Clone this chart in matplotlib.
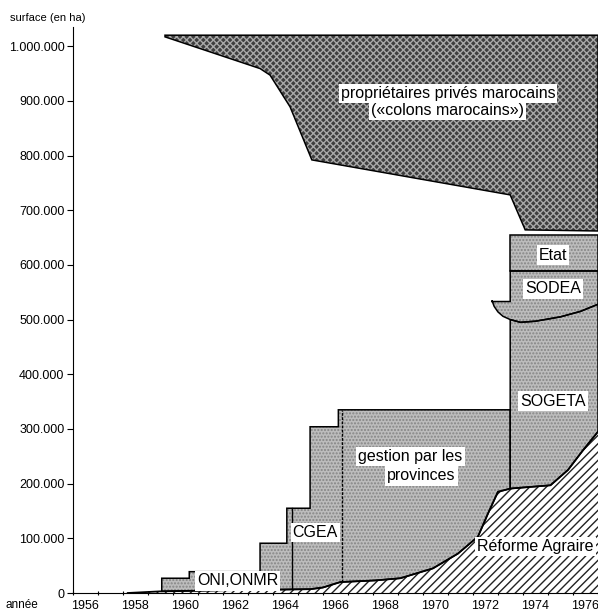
import matplotlib.pyplot as plt
import numpy as np

plt.rcParams['font.family'] = ['Liberation Sans', 'DejaVu Sans']
plt.rcParams['hatch.linewidth'] = 1.0

# Réforme Agraire (upper edge of the hatched area), in ha
reforme_years = [1958.2, 1959.5, 1962.0, 1965.5, 1966.0, 1966.7, 1968.1, 1969.1,
                 1970.4, 1971.4, 1972.2, 1972.6, 1973.0, 1973.5, 1975.1, 1975.8,
                 1976.4, 1977.0]
reforme_ha = [0, 3000, 5000, 7000, 10000, 20000, 23000, 27000,
              45000, 72000, 103000, 145000, 185000, 191000, 197000, 225000,
              261000, 295000]

# ONI/ONMR, CGEA, gestion par les provinces: stepped total
step_edges = [1959.56, 1960.66, 1963.49, 1964.56, 1965.49, 1966.62, 1973.49]
step_ha = [27000, 39000, 91000, 155000, 304000, 335000]
cgea_start = 1964.76
provinces_start = 1966.76
sogeta_start = 1973.49

# SOGETA / SODEA boundary
sodea_years = [1972.76, 1972.85, 1973.0, 1973.2, 1973.49, 1973.9, 1974.5, 1975.5, 1976.3, 1977.0]
sodea_low = [535000, 524000, 514000, 506000, 500000, 495000, 497000, 505000, 515000, 528000]
sodea_fin_top = 533000
etat_low = 589000
etat_high = 654000

# propriétaires privés marocains
prives_years = [1959.69, 1963.49, 1963.89, 1964.69, 1965.56, 1973.49, 1974.09, 1977.0]
prives_low = [1017000, 959000, 947000, 889000, 792000, 728000, 664000, 662000]
prives_high = 1020000

year_labels = list(range(1956, 1977, 2))
y_ticks = list(range(0, 1000001, 100000))

DOT_FACE = '#bdbdbd'
DOT_HATCH = '#858585'


def reforme_at(xs):
    return np.interp(xs, reforme_years, reforme_ha)


def segment(x0, x1, xs):
    # x0 .. x1 including inner breakpoints of xs
    inner = [x for x in xs if x0 < x < x1]
    return np.array([x0] + inner + [x1])


def area(ax, xs, ys, face, hatch, hatch_color, lw=1.1):
    ax.fill(xs, ys, facecolor=face, hatch=hatch, edgecolor=hatch_color,
            linewidth=0, zorder=2)
    ax.fill(np.append(xs, xs[0]), np.append(ys, ys[0]), facecolor='none',
            edgecolor='black', linewidth=lw, zorder=3)


fig = plt.figure(figsize=(5.98, 6.14), dpi=100)
ax = fig.add_axes([72.7 / 598, 21 / 614, 525.3 / 598, 566 / 614])

# Réforme Agraire
ax.fill_between(reforme_years, 0, reforme_ha, facecolor='white', hatch='////',
                edgecolor='#222222', linewidth=0, zorder=2)
ax.plot(reforme_years, reforme_ha, color='black', lw=1.3, zorder=4)

# stepped block: ONI/ONMR + CGEA + provinces
top_x, top_y = [], []
for i, v in enumerate(step_ha):
    top_x += [step_edges[i], step_edges[i + 1]]
    top_y += [v, v]
bx = segment(step_edges[0], step_edges[-1], reforme_years)[::-1]
xs = np.concatenate([top_x, bx])
ys = np.concatenate([top_y, reforme_at(bx)])
area(ax, xs, ys, DOT_FACE, '.....', DOT_HATCH)

# dividers
for x0 in (cgea_start, provinces_start):
    v = np.array(step_ha)[np.searchsorted(step_edges, x0) - 1]
    ax.plot([x0, x0], [reforme_at(x0), v], color='black', lw=1.0,
            ls='-' if x0 == cgea_start else (0, (2, 1)), zorder=4)

# SOGETA
bx = segment(sogeta_start, 1977.0, reforme_years)
tx = segment(sogeta_start, 1977.0, sodea_years)[::-1]
xs = np.concatenate([bx, tx])
ys = np.concatenate([reforme_at(bx), np.interp(tx, sodea_years, sodea_low)])
area(ax, xs, ys, DOT_FACE, '.....', DOT_HATCH)

# SODEA
xs = np.concatenate([sodea_years, [1977.0, sogeta_start, sogeta_start, sodea_years[0]]])
ys = np.concatenate([sodea_low, [etat_low, etat_low, sodea_fin_top, sodea_fin_top]])
area(ax, xs, ys, DOT_FACE, '.....', DOT_HATCH)

# Etat
xs = np.array([sogeta_start, 1977.0, 1977.0, sogeta_start])
ys = np.array([etat_low, etat_low, etat_high, etat_high])
area(ax, xs, ys, DOT_FACE, '.....', DOT_HATCH)

# propriétaires privés
xs = np.concatenate([prives_years, [1977.0, prives_years[0]]])
ys = np.concatenate([prives_low, [prives_high, prives_high]])
area(ax, xs, ys, '#3e3e3e', 'xxxxx', '#a8a8a8')

box = dict(facecolor='white', edgecolor='none', pad=1.5)
labels = [
    (1971.0, 914000, 'propriétaires privés marocains'),
    (1971.0, 883000, '(«colons marocains»)'),
    (1975.2, 618000, 'Etat'),
    (1975.2, 556000, 'SODEA'),
    (1975.2, 351000, 'SOGETA'),
    (1969.5, 249000, 'gestion par les'),
    (1969.95, 214000, 'provinces'),
    (1965.7, 110000, 'CGEA'),
    (1962.6, 22000, 'ONI,ONMR'),
    (1974.5, 85000, 'Réforme Agraire'),
]
for x, y, s in labels:
    ax.text(x, y, s, ha='center', va='center', fontsize=11.5, bbox=box, zorder=6)

ax.set_xlim(1956, 1977)
ax.set_ylim(0, 1035000)
ax.spines['top'].set_visible(False)
ax.spines['right'].set_visible(False)
ax.set_xticks(np.arange(1956, 1978, 1))
ax.set_xticklabels([])
ax.set_xticks([y + 0.5 for y in year_labels], minor=True)
ax.set_xticklabels([str(y) for y in year_labels], minor=True)
ax.tick_params(axis='x', which='major', length=3, direction='inout')
ax.tick_params(axis='x', which='minor', length=0, labelsize=9, pad=5)
ax.set_yticks(y_ticks)
ax.set_yticklabels([f'{v:,}'.replace(',', '.') for v in y_ticks], fontsize=9)
ax.tick_params(axis='y', length=4, pad=2)

fig.text(10 / 598, 1 - 18 / 614, 'surface (en ha)', fontsize=8, va='center')
fig.text(22 / 598, 1 - 605 / 614, 'année', fontsize=8.5, va='center', ha='center')

fig.savefig('out.png', dpi=100)
